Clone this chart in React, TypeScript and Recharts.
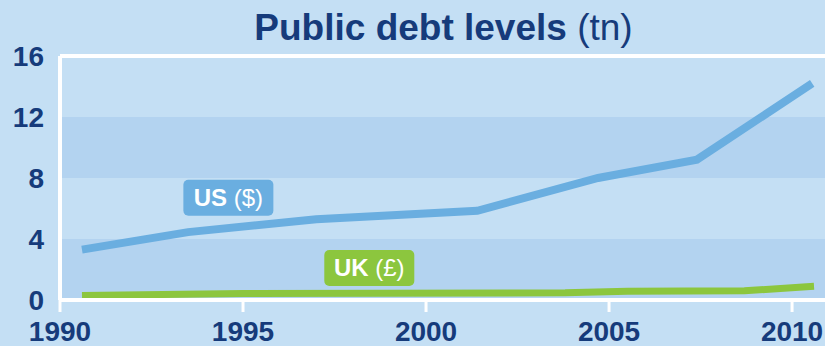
import {
  LineChart,
  Line,
  XAxis,
  YAxis,
  ReferenceArea,
  ReferenceLine,
  ReferenceDot,
} from 'recharts';

const usYears = [1990.6, 1993.5, 1997.0, 2001.4, 2004.7, 2007.4, 2010.55];
const usDebt = [3.3, 4.45, 5.3, 5.85, 8.0, 9.2, 14.2];

const ukYears = [1990.6, 1995.0, 2003.8, 2005.5, 2008.7, 2010.6];
const ukDebt = [0.3, 0.42, 0.47, 0.57, 0.6, 0.9];

const xTicks = [1990, 1995, 2000, 2005, 2010];
const yTicks = [0, 4, 8, 12, 16];

const usData = usYears.map((year, i) => ({ year, value: usDebt[i] }));
const ukData = ukYears.map((year, i) => ({ year, value: ukDebt[i] }));

const NAVY = '#163b7b';
const BG = '#c4dff4';
const BAND = '#b3d3f0';
const US_BLUE = '#6aaee0';
const UK_GREEN = '#8cc63e';
const FONT = '"Liberation Sans", Arial, sans-serif';

// where the series tags sit, in data units
const usTag = { year: 1994.6, value: 6.7 };
const ukTag = { year: 1998.45, value: 2.1 };

const SeriesTag = (props: any) => {
  const { cx, cy, bold, rest, fill } = props;
  const w = 90;
  const h = 36;
  return (
    <g>
      <rect x={cx - w / 2} y={cy - h / 2} width={w} height={h} rx={5} fill={fill} />
      <text
        x={cx}
        y={cy + 8.5}
        textAnchor="middle"
        fill="#fff"
        fontFamily={FONT}
        fontSize={24}
      >
        <tspan fontWeight="bold">{bold}</tspan>
        <tspan> {rest}</tspan>
      </text>
    </g>
  );
};

export default function App() {
  return (
    <div
      style={{
        position: 'fixed',
        top: 0,
        left: 0,
        width: 825,
        height: 346,
        background: BG,
        overflow: 'hidden',
      }}
    >
      <div
        style={{
          position: 'absolute',
          top: 10,
          left: 0,
          width: 887,
          textAlign: 'center',
          fontFamily: FONT,
          fontSize: 37,
          lineHeight: '36px',
          color: NAVY,
          whiteSpace: 'nowrap',
        }}
      >
        <span style={{ fontWeight: 'bold' }}>Public debt levels</span> (tn)
      </div>
      <LineChart
        width={825}
        height={346}
        margin={{ top: 56, right: 0, bottom: 0, left: 0 }}
        style={{ position: 'absolute', top: 0, left: 0 }}
      >
        <ReferenceArea y1={0} y2={4} fill={BAND} fillOpacity={1} stroke="none" />
        <ReferenceArea y1={8} y2={12} fill={BAND} fillOpacity={1} stroke="none" />
        <ReferenceLine y={16} stroke="#fff" strokeWidth={4} />
        <XAxis
          type="number"
          dataKey="year"
          domain={[1990, 2010.9]}
          ticks={xTicks}
          allowDataOverflow
          height={46}
          axisLine={{ stroke: '#fff', strokeWidth: 4 }}
          tickLine={{ stroke: '#fff', strokeWidth: 3 }}
          tickSize={12}
          tickMargin={9}
          tick={{ fill: NAVY, fontFamily: FONT, fontSize: 28, fontWeight: 'bold' }}
          interval={0}
        />
        <YAxis
          type="number"
          domain={[0, 16]}
          ticks={yTicks}
          width={60}
          axisLine={{ stroke: '#fff', strokeWidth: 4 }}
          tickLine={false}
          tickMargin={10}
          tick={{ fill: NAVY, fontFamily: FONT, fontSize: 28, fontWeight: 'bold' }}
          interval={0}
        />
        <Line
          data={usData}
          dataKey="value"
          type="linear"
          stroke={US_BLUE}
          strokeWidth={8}
          strokeLinejoin="miter"
          dot={false}
          isAnimationActive={false}
        />
        <Line
          data={ukData}
          dataKey="value"
          type="linear"
          stroke={UK_GREEN}
          strokeWidth={7}
          dot={false}
          isAnimationActive={false}
        />
        <ReferenceDot
          x={usTag.year}
          y={usTag.value}
          r={0}
          shape={(p: any) => <SeriesTag {...p} fill={US_BLUE} bold="US" rest="($)" />}
        />
        <ReferenceDot
          x={ukTag.year}
          y={ukTag.value}
          r={0}
          shape={(p: any) => <SeriesTag {...p} fill={UK_GREEN} bold="UK" rest="(£)" />}
        />
      </LineChart>
    </div>
  );
}
